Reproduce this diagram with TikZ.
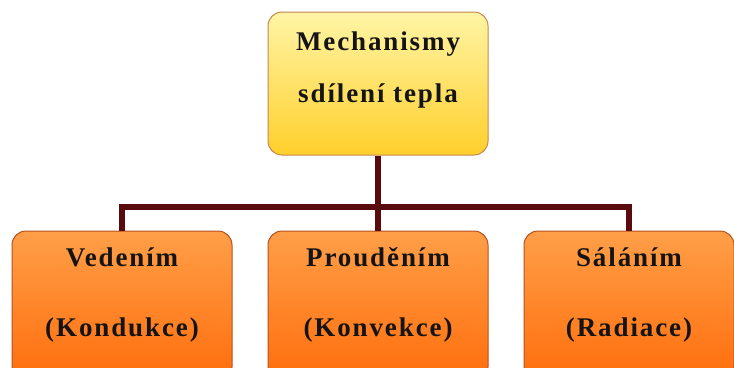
\documentclass[tikz,border=0pt]{standalone}
\usepackage{fontspec}
\setmainfont{Liberation Serif}
\newfontfamily\boxfont{Liberation Serif}[LetterSpace=7]
\usetikzlibrary{positioning,calc}
\definecolor{heattop}{HTML}{FFF5A6}
\definecolor{heatbot}{HTML}{FFCF2C}
\definecolor{heatrim}{HTML}{C4874E}
\definecolor{modetop}{HTML}{FF9F48}
\definecolor{modebot}{HTML}{FF6D0C}
\definecolor{moderim}{HTML}{B4501E}
\definecolor{stem}{HTML}{5A0B0E}
\tikzset{
  hbox/.style={draw=heatrim,line width=1pt,rounded corners=14pt,
    top color=heattop,bottom color=heatbot,inner sep=0pt,align=center,
    font=\boxfont\bfseries\fontsize{27}{32}\selectfont,text=black!92,
    minimum width=220pt,minimum height=143pt,text height=90pt,text depth=53pt},
  mbox/.style={hbox,draw=moderim,top color=modetop,bottom color=modebot,
    minimum height=150pt,text height=105pt,text depth=45pt},
  stemline/.style={draw=stem,line width=6pt},
}
\begin{document}
\begin{tikzpicture}
  \useasboundingbox (0,0) rectangle (734pt,-367pt);
  \node[hbox](heat) at (378pt,-83.5pt){Mechanismy\\[20pt]sdílení tepla};
  \node[mbox,below=75pt of heat](conv){Prouděním\\[38pt](Konvekce)};
  \node[mbox,left=35pt of conv](cond){Vedením\\[38pt](Kondukce)};
  \node[mbox,right=35pt of conv,minimum width=210pt](rad){Sáláním\\[38pt](Radiace)};
  \draw[stemline](heat.south)--(conv.north);
  \draw[stemline](cond.north)|-($(heat.south)!0.68!(conv.north)$)-|(rad.north);
\end{tikzpicture}
\end{document}
